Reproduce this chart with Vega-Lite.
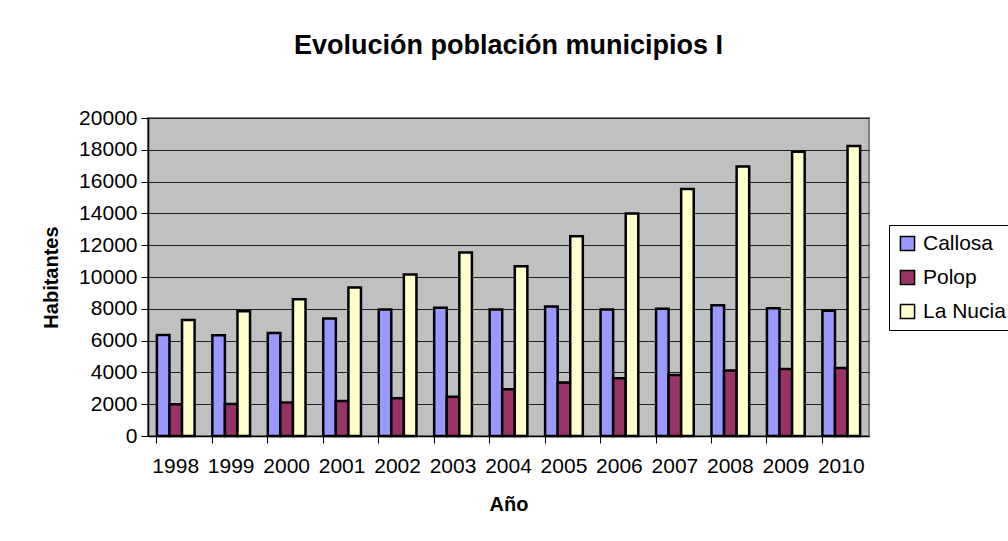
{
  "$schema": "https://vega.github.io/schema/vega-lite/v6.json",
  "width": 721,
  "height": 318,
  "autosize": {"type": "none"},
  "padding": {"left": 148, "top": 118, "right": 139, "bottom": 105},
  "background": "white",
  "title": {
    "text": "Evolución población municipios I",
    "font": "Liberation Sans",
    "fontSize": 27,
    "fontWeight": "bold",
    "color": "black",
    "anchor": "middle",
    "offset": 47
  },
  "data": {
    "values": [
      {"year": "1998", "city": "Callosa", "value": 6360},
      {"year": "1998", "city": "Polop", "value": 1995},
      {"year": "1998", "city": "La Nucia", "value": 7300},
      {"year": "1999", "city": "Callosa", "value": 6340},
      {"year": "1999", "city": "Polop", "value": 2015},
      {"year": "1999", "city": "La Nucia", "value": 7850},
      {"year": "2000", "city": "Callosa", "value": 6485},
      {"year": "2000", "city": "Polop", "value": 2100},
      {"year": "2000", "city": "La Nucia", "value": 8600},
      {"year": "2001", "city": "Callosa", "value": 7390},
      {"year": "2001", "city": "Polop", "value": 2205},
      {"year": "2001", "city": "La Nucia", "value": 9340},
      {"year": "2002", "city": "Callosa", "value": 7955},
      {"year": "2002", "city": "Polop", "value": 2370},
      {"year": "2002", "city": "La Nucia", "value": 10155},
      {"year": "2003", "city": "Callosa", "value": 8060},
      {"year": "2003", "city": "Polop", "value": 2475},
      {"year": "2003", "city": "La Nucia", "value": 11540},
      {"year": "2004", "city": "Callosa", "value": 7955},
      {"year": "2004", "city": "Polop", "value": 2940},
      {"year": "2004", "city": "La Nucia", "value": 10680},
      {"year": "2005", "city": "Callosa", "value": 8145},
      {"year": "2005", "city": "Polop", "value": 3360},
      {"year": "2005", "city": "La Nucia", "value": 12570},
      {"year": "2006", "city": "Callosa", "value": 7955},
      {"year": "2006", "city": "Polop", "value": 3630},
      {"year": "2006", "city": "La Nucia", "value": 14000},
      {"year": "2007", "city": "Callosa", "value": 8000},
      {"year": "2007", "city": "Polop", "value": 3840},
      {"year": "2007", "city": "La Nucia", "value": 15530},
      {"year": "2008", "city": "Callosa", "value": 8225},
      {"year": "2008", "city": "Polop", "value": 4115},
      {"year": "2008", "city": "La Nucia", "value": 16955},
      {"year": "2009", "city": "Callosa", "value": 8040},
      {"year": "2009", "city": "Polop", "value": 4220},
      {"year": "2009", "city": "La Nucia", "value": 17880},
      {"year": "2010", "city": "Callosa", "value": 7870},
      {"year": "2010", "city": "Polop", "value": 4280},
      {"year": "2010", "city": "La Nucia", "value": 18235}
    ]
  },
  "mark": {"type": "bar", "stroke": "black", "strokeWidth": 2.5},
  "encoding": {
    "x": {
      "field": "year",
      "type": "nominal",
      "title": "Año",
      "scale": {"paddingInner": 0.32, "paddingOuter": 0.16},
      "axis": {
        "labelAngle": 0,
        "bandPosition": 0,
        "tickSize": 7,
        "labelPadding": 12,
        "titlePadding": 18
      }
    },
    "xOffset": {
      "field": "city",
      "type": "nominal",
      "scale": {"domain": ["Callosa", "Polop", "La Nucia"]}
    },
    "y": {
      "field": "value",
      "type": "quantitative",
      "title": "Habitantes",
      "scale": {"domain": [0, 20000], "nice": false},
      "axis": {
        "values": [0, 2000, 4000, 6000, 8000, 10000, 12000, 14000, 16000, 18000, 20000],
        "format": "d",
        "tickSize": 7,
        "labelPadding": 4,
        "titlePadding": 17,
        "grid": true,
        "gridColor": "#202020",
        "gridWidth": 1
      }
    },
    "color": {
      "field": "city",
      "type": "nominal",
      "title": null,
      "scale": {
        "domain": ["Callosa", "Polop", "La Nucia"],
        "range": ["#9999FF", "#993366", "#FFFFCC"]
      },
      "legend": {
        "orient": "none",
        "legendX": 741,
        "legendY": 107,
        "symbolType": "square",
        "symbolSize": 200,
        "symbolStrokeColor": "black",
        "symbolStrokeWidth": 1.5,
        "symbolFillOpacity": 1,
        "labelFontSize": 21,
        "labelFont": "Liberation Sans",
        "labelColor": "black",
        "labelLimit": 200,
        "rowPadding": 12,
        "padding": 8,
        "strokeColor": "black",
        "fillColor": "white",
        "labelOffset": 5
      }
    }
  },
  "config": {
    "view": {"fill": "#C0C0C0", "stroke": "#808080", "strokeWidth": 2},
    "axis": {
      "labelFont": "Liberation Sans",
      "labelFontSize": 21,
      "labelColor": "black",
      "titleFont": "Liberation Sans",
      "titleFontSize": 20,
      "titleFontWeight": "bold",
      "titleColor": "black",
      "domainColor": "black",
      "domainWidth": 1.5,
      "tickColor": "black",
      "tickWidth": 1
    }
  }
}
